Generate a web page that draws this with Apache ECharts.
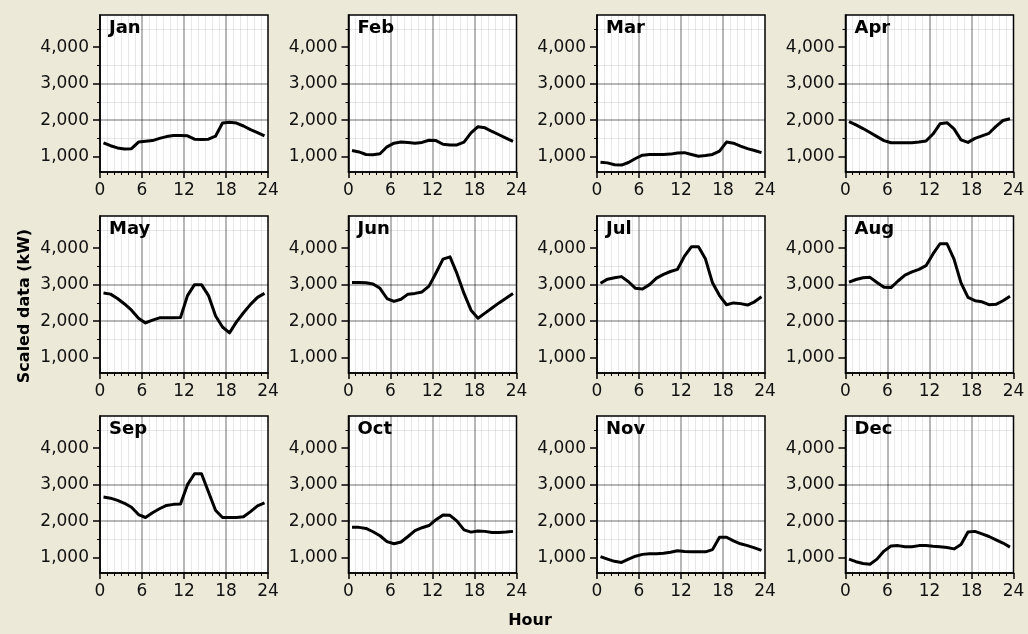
<!DOCTYPE html>
<html>
<head>
<meta charset="utf-8">
<script src="https://cdn.jsdelivr.net/npm/echarts@6/dist/echarts.min.js"></script>
<style>
html,body{margin:0;padding:0;background:#ECE9D8;}
#c{width:1028px;height:634px;}
</style>
</head>
<body>
<div id="c"></div>
<script>
const hours = [0.5,1.5,2.5,3.5,4.5,5.5,6.5,7.5,8.5,9.5,10.5,11.5,12.5,13.5,14.5,15.5,16.5,17.5,18.5,19.5,20.5,21.5,22.5,23.5];
const months = ['Jan','Feb','Mar','Apr','May','Jun','Jul','Aug','Sep','Oct','Nov','Dec'];
const xTicks = [0,6,12,18,24];
const yTicks = [1000,2000,3000,4000];

const jan = [1380,1300,1240,1210,1220,1400,1420,1440,1500,1550,1580,1580,1570,1480,1470,1480,1560,1920,1940,1920,1840,1740,1660,1570];
const feb = [1170,1130,1060,1055,1080,1270,1370,1400,1390,1370,1390,1450,1440,1340,1320,1320,1400,1650,1820,1790,1690,1600,1510,1420];
const mar = [850,830,780,770,840,950,1040,1060,1060,1060,1070,1100,1110,1060,1010,1030,1060,1150,1400,1370,1290,1220,1170,1110];
const apr = [1960,1870,1770,1660,1550,1440,1380,1380,1380,1380,1400,1430,1620,1900,1930,1760,1460,1390,1500,1570,1640,1830,1990,2040];
const may = [2770,2740,2620,2470,2300,2080,1950,2030,2090,2090,2090,2100,2700,3000,3000,2700,2150,1840,1680,1980,2230,2460,2650,2760];
const jun = [3060,3060,3050,3020,2900,2620,2540,2600,2740,2760,2800,2960,3320,3700,3760,3300,2760,2300,2080,2220,2360,2500,2630,2760];
const jul = [3040,3150,3190,3220,3080,2900,2880,3000,3180,3280,3360,3420,3780,4040,4040,3700,3050,2700,2450,2500,2480,2440,2530,2670];
const aug = [3070,3140,3190,3200,3060,2930,2920,3100,3260,3350,3420,3520,3840,4120,4120,3700,3050,2650,2560,2530,2450,2460,2560,2680];
const sep = [2660,2630,2570,2490,2380,2180,2100,2230,2340,2430,2460,2470,3000,3300,3300,2800,2300,2100,2100,2100,2120,2260,2420,2500];
const oct = [1830,1830,1800,1710,1600,1440,1380,1430,1580,1740,1820,1880,2040,2170,2160,2000,1760,1700,1730,1720,1690,1690,1700,1720];
const nov = [1030,960,900,870,960,1040,1090,1110,1110,1120,1150,1190,1170,1160,1160,1160,1220,1560,1560,1460,1380,1330,1270,1200];
const dec = [960,890,840,820,960,1180,1320,1330,1300,1300,1330,1330,1310,1300,1280,1240,1360,1700,1720,1650,1580,1490,1400,1290];
const monthValues = [jan,feb,mar,apr,may,jun,jul,aug,sep,oct,nov,dec];

const colLeft = [100, 348.5, 597, 845.5];
const rowTop = [15, 216, 416];
const W = 168, H = 157;
const FONT = 'DejaVu Sans';
const MINOR = 'rgba(0,0,0,0.09)';
const MAJOR = 'rgba(0,0,0,0.38)';

const grids = [], xAxes = [], yAxes = [], series = [], titles = [];
monthValues.forEach((vals, i) => {
  const col = i % 4, row = Math.floor(i / 4);
  grids.push({
    left: colLeft[col], top: rowTop[row], width: W, height: H,
    show: true, backgroundColor: '#ffffff', borderColor: '#000', borderWidth: 1.5,
    containLabel: false
  });
  xAxes.push({
    type: 'value', gridIndex: i, min: 0, max: 24, interval: 6,
    axisLine: { show: true, onZero: false, lineStyle: { color: '#000', width: 1.5 } },
    axisTick: { show: true, inside: false, length: 6, lineStyle: { color: '#000', width: 1.5 },
      customValues: xTicks },
    minorTick: { show: true, splitNumber: 6, length: 3, lineStyle: { color: '#000', width: 1 } },
    axisLabel: { show: true, margin: 10, color: '#111', fontFamily: FONT, fontSize: 17,
      customValues: xTicks },
    splitLine: { show: true, showMinLine: false, showMaxLine: false,
      lineStyle: { color: MAJOR, width: 1.5, type: 'solid' } },
    minorSplitLine: { show: true, lineStyle: { color: MINOR, width: 1, type: 'solid' } }
  });
  yAxes.push({
    type: 'value', gridIndex: i, min: 580, max: 4880, splitNumber: 4,
    axisLine: { show: true, onZero: false, lineStyle: { color: '#000', width: 1.5 } },
    axisTick: { show: true, inside: false, length: 7, lineStyle: { color: '#000', width: 1.5 },
      customValues: yTicks },
    minorTick: { show: true, splitNumber: 2, length: 3, lineStyle: { color: '#000', width: 1 } },
    axisLabel: { show: true, margin: 11, color: '#111', fontFamily: FONT, fontSize: 17,
      customValues: yTicks,
      formatter: v => v.toLocaleString('en-US') },
    splitLine: { show: true, showMinLine: false, showMaxLine: false,
      lineStyle: { color: MAJOR, width: 1.5, type: 'solid' } },
    minorSplitLine: { show: true, lineStyle: { color: MINOR, width: 1, type: 'solid' } }
  });
  series.push({
    type: 'line', xAxisIndex: i, yAxisIndex: i,
    data: hours.map((h, k) => [h, vals[k]]),
    showSymbol: false, smooth: false, clip: true,
    lineStyle: { color: '#000', width: 3, join: 'round' },
    animation: false
  });
  titles.push({
    text: months[i], left: colLeft[col] + 9, top: rowTop[row] + 4, padding: 0,
    textStyle: { fontFamily: FONT, fontWeight: 'bold', fontSize: 18, color: '#000' }
  });
});

const chart = echarts.init(document.getElementById('c'), null, { renderer: 'canvas' });
chart.setOption({
  backgroundColor: '#ECE9D8',
  animation: false,
  title: titles,
  grid: grids,
  xAxis: xAxes,
  yAxis: yAxes,
  series: series,
  graphic: [
    { type: 'text', x: 25, y: 306, rotation: Math.PI / 2,
      style: { text: 'Scaled data (kW)', font: 'bold 16px "DejaVu Sans"', fill: '#000',
        align: 'center', verticalAlign: 'middle' } },
    { type: 'text', x: 530, y: 621,
      style: { text: 'Hour', font: 'bold 16px "DejaVu Sans"', fill: '#000',
        align: 'center', verticalAlign: 'middle' } }
  ]
});
</script>
</body>
</html>
